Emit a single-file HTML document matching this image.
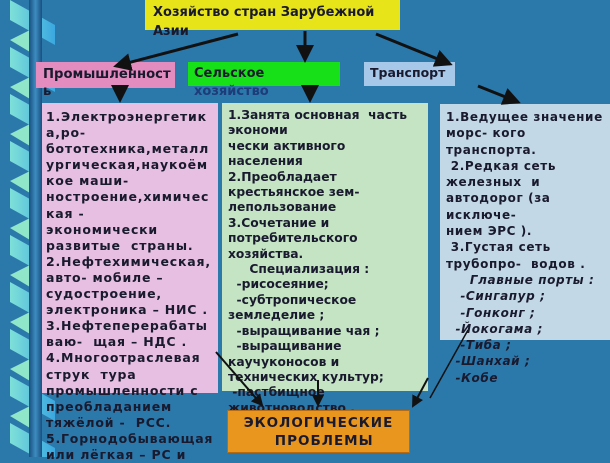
<!DOCTYPE html>
<html><head><meta charset="utf-8"><style>
body{margin:0;width:610px;height:457px;overflow:hidden;background:#2b78ab;font-family:"DejaVu Sans","Liberation Sans",sans-serif;font-weight:bold;position:relative}
.b{position:absolute;box-sizing:border-box}
.t{color:#1a1a2e;font-size:12px;line-height:14.3px;white-space:nowrap}
</style></head><body>
<svg class="b" style="left:0;top:0" width="60" height="457">
<defs><linearGradient id="g" x1="0" x2="1"><stop offset="0" stop-color="#7fe0d8"/><stop offset="1" stop-color="#3aa8e0"/></linearGradient>
<linearGradient id="v" x1="0" x2="1"><stop offset="0" stop-color="#1a4f80"/><stop offset=".5" stop-color="#3c8cc0"/><stop offset="1" stop-color="#1a4f80"/></linearGradient></defs>
<g fill="url(#g)">
<polygon points="10,0 55,25 55,45 10,20"/>
<polygon points="10,47 55,72 55,92 10,67"/>
<polygon points="10,94 55,119 55,139 10,114"/>
<polygon points="10,141 55,166 55,186 10,161"/>
<polygon points="10,188 55,213 55,233 10,208"/>
<polygon points="10,235 55,260 55,280 10,255"/>
<polygon points="10,282 55,307 55,327 10,302"/>
<polygon points="10,329 55,354 55,374 10,349"/>
<polygon points="10,376 55,401 55,421 10,396"/>
<polygon points="10,423 55,448 55,468 10,443"/>
</g>
<g fill="#8fe6c8">
<polygon points="10,40 30,30 30,52"/><polygon points="10,87 30,77 30,99"/><polygon points="10,134 30,124 30,146"/><polygon points="10,181 30,171 30,193"/><polygon points="10,228 30,218 30,240"/><polygon points="10,275 30,265 30,287"/><polygon points="10,322 30,312 30,334"/><polygon points="10,369 30,359 30,381"/><polygon points="10,416 30,406 30,428"/>
</g>
<rect x="29" y="0" width="13" height="457" fill="url(#v)"/>
</svg>

<div class="b t" style="left:145px;top:0;width:255px;height:30px;background:#e8e41a;padding:3px 0 0 8px;font-size:13px;line-height:19px">Хозяйство стран Зарубежной<br>Азии</div>
<div class="b t" style="left:36px;top:62px;width:139px;height:26px;background:#e28cc0;padding:4px 0 0 7px;font-size:13.2px;line-height:17px">Промышленност<br>ь</div>
<div class="b t" style="left:188px;top:62px;width:152px;height:24px;background:#18e018;padding:3px 0 0 6px;font-size:13px;line-height:18px">Сельское<br><span style="color:#1d3c78">хозяйство</span></div>
<div class="b t" style="left:364px;top:62px;width:91px;height:24px;background:#a8c8ea;padding:4px 0 0 6px;font-size:12.5px">Транспорт</div>

<div class="b" style="left:42px;top:103px;width:176px;height:290px;background:#e6bfe2"></div>
<div class="b t" style="left:46px;top:109px;font-size:12.5px;letter-spacing:0.8px;line-height:16.1px">1.Электроэнергетик<br>а,ро-<br>бототехника,металл<br>ургическая,наукоём<br>кое маши-<br>ностроение,химичес<br>кая -<br>экономически<br>развитые &nbsp;страны.<br>2.Нефтехимическая,<br>авто- мобиле –<br>судостроение,<br>электроника – НИС .<br>3.Нефтеперерабаты<br>ваю- &nbsp;щая – НДС .<br>4.Многоотраслевая<br>струк &nbsp;тура<br>промышленности с<br>преобладанием<br>тяжёлой - &nbsp;РСС.<br>5.Горнодобывающая<br>или лёгкая – РС и</div>

<div class="b" style="left:222px;top:103px;width:206px;height:288px;background:#c4e4c4"></div>
<div class="b t" style="left:228px;top:108px;font-size:12.3px;letter-spacing:0px;line-height:15.4px">1.Занята основная &nbsp;часть<br>экономи<br>чески активного<br>населения<br>2.Преобладает<br>крестьянское зем-<br>лепользование<br>3.Сочетание и<br>потребительского<br>хозяйства.<br>&nbsp;&nbsp;&nbsp;&nbsp;&nbsp;Специализация :<br>&nbsp;&nbsp;-рисосеяние;<br>&nbsp;&nbsp;-субтропическое<br>земледелие ;<br>&nbsp;&nbsp;-выращивание чая ;<br>&nbsp;&nbsp;-выращивание<br>каучуконосов и<br>технических культур;<br>&nbsp;-пастбищное<br>животноводство .</div>

<div class="b" style="left:440px;top:104px;width:170px;height:236px;background:#c2d8e6"></div>
<div class="b t" style="left:446px;top:109px;font-size:12px;letter-spacing:0.6px;line-height:16.3px">1.Ведущее значение<br>морс- кого<br>транспорта.<br>&nbsp;2.Редкая сеть<br>железных &nbsp;и<br>автодорог (за<br>исключе-<br>нием ЭРС ).<br>&nbsp;3.Густая сеть<br>трубопро- &nbsp;водов .<br><i>&nbsp;&nbsp;&nbsp;&nbsp;&nbsp;Главные порты :<br>&nbsp;&nbsp;&nbsp;-Сингапур ;<br>&nbsp;&nbsp;&nbsp;-Гонконг ;<br>&nbsp;&nbsp;-Йокогама ;<br>&nbsp;&nbsp;&nbsp;-Тиба ;<br>&nbsp;&nbsp;-Шанхай ;<br>&nbsp;&nbsp;-Кобе</i></div>

<div class="b t" style="left:227px;top:410px;width:183px;height:43px;background:#e8961e;border:1px solid #b86a10;text-align:center;font-size:13.5px;line-height:18px;padding-top:3px;letter-spacing:1px">ЭКОЛОГИЧЕСКИЕ<br>&nbsp;&nbsp;ПРОБЛЕМЫ</div>

<svg class="b" style="left:0;top:0" width="610" height="457">
<defs><marker id="a" markerWidth="6" markerHeight="6" refX="5" refY="3" orient="auto"><path d="M0,0L6,3L0,6z" fill="#111"/></marker></defs>
<g stroke="#111" stroke-width="3" fill="none" marker-end="url(#a)">
<line x1="238" y1="34" x2="116" y2="66"/>
<line x1="305" y1="31" x2="305" y2="60"/>
<line x1="376" y1="34" x2="450" y2="64"/>
<line x1="120" y1="87" x2="120" y2="100"/>
<line x1="310" y1="87" x2="310" y2="100"/>
<line x1="478" y1="86" x2="518" y2="102"/>
<line x1="216" y1="352" x2="262" y2="405" stroke-width="2"/>
<line x1="318" y1="380" x2="318" y2="405" stroke-width="2"/>
<line x1="428" y1="378" x2="413" y2="406" stroke-width="2"/>
</g>
<line x1="468" y1="330" x2="430" y2="398" stroke="#111" stroke-width="1.5"/>
</svg>
</body></html>
